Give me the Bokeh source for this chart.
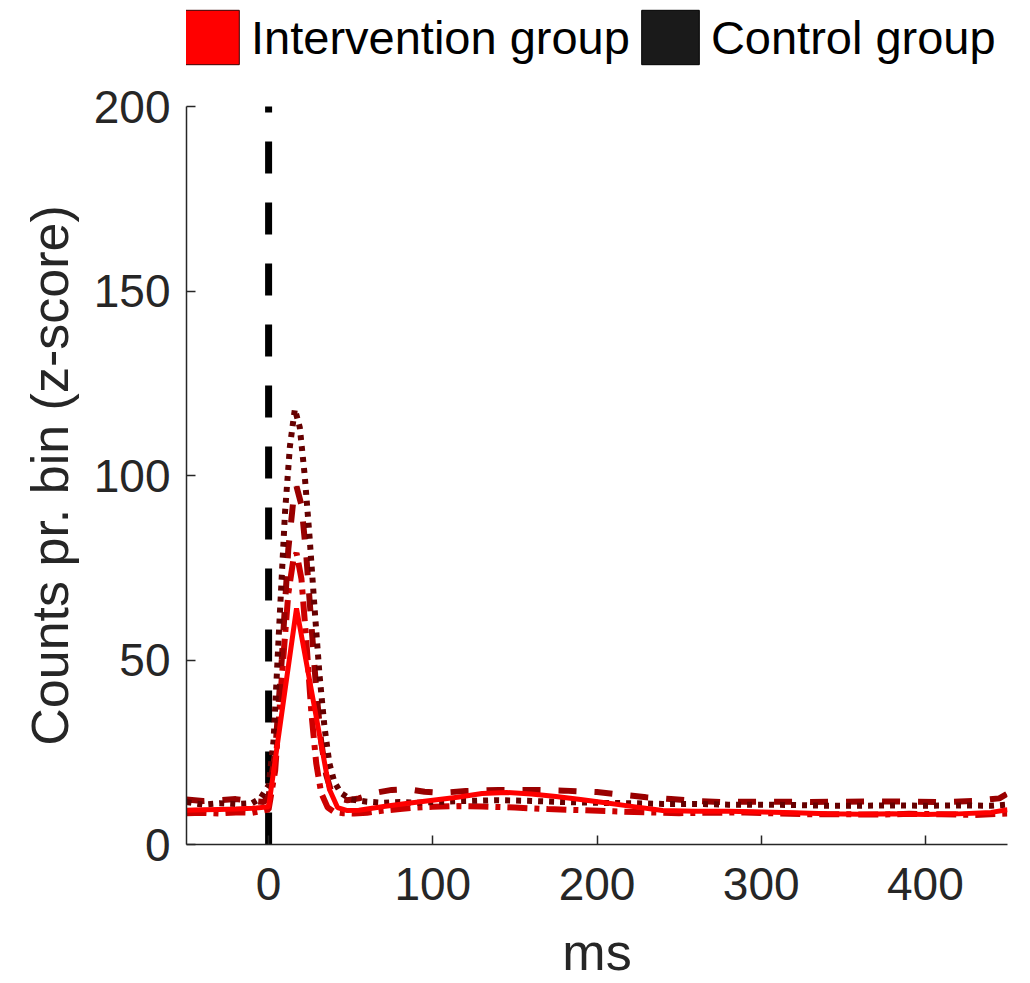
from bokeh.plotting import figure
from bokeh.layouts import column
from bokeh.models import Range1d, ColumnDataSource, Legend, LegendItem, FixedTicker
from bokeh.embed import file_html
from bokeh.resources import INLINE

# Peri-stimulus spike counts (z-scored) per bin, time in ms
t_solid = [-50, -40, -30, -20, -10, 0, 17, 37, 42, 48, 55, 70, 85, 100, 115, 130, 145,
           160, 175, 190, 205, 220, 240, 260, 280, 300, 320, 340, 360, 380, 400, 420, 440, 450]
v_solid = [9.3, 9.4, 9.5, 9.6, 9.8, 10.2, 64, 15, 10, 9.2, 9.3, 10.3, 11.2, 12.0, 12.8, 13.8, 14.1,
           13.7, 13.0, 12.2, 11.3, 10.4, 9.2, 9.0, 9.0, 8.8, 8.6, 8.3, 8.2, 8.3, 8.1, 8.3, 8.7, 9.4]

t_dot = [-50, -40, -30, -20, -10, -5, 0, 3, 6, 10, 13, 16, 19, 22, 25, 28, 31, 34, 37, 40, 44,
         50, 60, 70, 80, 90, 100, 120, 140, 160, 180, 200, 220, 240, 260, 280, 300, 320, 340,
         360, 380, 400, 420, 440, 450]
v_dot = [11.5, 10.8, 11.2, 11.0, 11.2, 12.5, 16, 28, 55, 90, 108, 118, 113, 100, 83, 64, 46, 32, 22, 17, 14,
         12.2, 11.6, 11.3, 11.5, 11.3, 11.5, 11.8, 12.0, 11.8, 11.5, 11.3, 11.2, 11.0, 11.0, 10.8, 10.8, 10.7, 10.5,
         10.5, 10.6, 10.5, 10.6, 10.5, 10.8]

t_dash = [-50, -40, -30, -20, -10, -3, 0, 4, 8, 12, 15, 17, 20, 23, 26, 29, 32, 35, 38, 42, 48,
          55, 65, 75, 85, 95, 105, 120, 140, 160, 180, 200, 215, 230, 245, 260, 275, 290, 310,
          330, 350, 370, 390, 410, 430, 445, 450]
v_dash = [12.2, 11.8, 12.0, 12.3, 11.8, 11.5, 13, 25, 50, 80, 93, 97, 92, 78, 60, 42, 28, 19, 14.5, 12.5, 12.0,
          12.5, 14.0, 14.8, 15.0, 14.3, 14.0, 14.5, 14.8, 14.8, 14.6, 14.2, 13.5, 12.8, 12.3, 11.8, 11.5, 11.6, 11.6,
          11.5, 11.6, 11.7, 11.6, 11.5, 11.8, 12.5, 13.8]

t_dd = [-50, -40, -30, -20, -10, 0, 4, 8, 12, 15, 17, 20, 23, 26, 29, 32, 36, 40, 45, 52,
        60, 70, 80, 90, 100, 115, 130, 150, 170, 190, 210, 230, 250, 270, 290, 310, 330, 350,
        370, 390, 410, 430, 450]
v_dd = [8.5, 8.6, 8.4, 8.7, 8.6, 9.5, 20, 45, 68, 77, 79, 72, 55, 36, 22, 14, 10, 8.8, 8.5, 8.4,
        8.6, 9.2, 9.6, 10.0, 10.2, 10.4, 10.3, 10.0, 9.6, 9.3, 9.0, 8.7, 8.5, 8.6, 8.7, 8.4, 8.2, 8.2,
        8.1, 8.3, 8.2, 8.0, 8.4]

# stimulus onset marker
onset_t = [0, 0]
onset_v = [0, 210]

x_ticks = [0, 100, 200, 300, 400]
y_ticks = [0, 50, 100, 150, 200]

group_labels = ["Intervention group", "Control group"]
group_fill = ["#ff0000", "#1a1a1a"]
group_edge = ["#3a0000", "#000000"]

FONT = "Liberation Sans"
TXT = "#262626"
LEGEND_H = 82

# --- legend strip on top ---
lg = figure(width=1030, height=LEGEND_H, x_range=Range1d(0, 1), y_range=Range1d(0, 1),
            output_backend="svg", toolbar_location=None, min_border=0,
            x_axis_type=None, y_axis_type=None)
lg.outline_line_color = None
lg.grid.visible = False

# swatch renderers: one row with no position, so only the legend shows them
swatch = ColumnDataSource(data=dict(x=[float("nan")], y=[float("nan")]))
items = []
for lab, fc, ec in zip(group_labels, group_fill, group_edge):
    r = lg.rect(x="x", y="y", width=1, height=1, source=swatch,
                fill_color=fc, line_color=ec, line_width=1)
    items.append(LegendItem(label=lab, renderers=[r]))

legend = Legend(items=items, orientation="horizontal", location=(-12, 11),
                glyph_width=72, glyph_height=68, label_height=54,
                label_text_font=FONT, label_text_font_size="47px", label_text_color="black",
                label_standoff=5, spacing=4, padding=0, margin=0,
                border_line_color=None, background_fill_alpha=0)
lg.add_layout(legend)

# --- main plot ---
p = figure(width=1030, height=983 - LEGEND_H, x_range=Range1d(-50, 450), y_range=Range1d(0, 200),
           output_backend="svg", toolbar_location=None,
           min_border_left=186, min_border_right=23, min_border_top=106 - LEGEND_H,
           min_border_bottom=138)
p.outline_line_color = None
p.grid.visible = False

p.line(onset_t, onset_v, line_color="black", line_width=7, line_dash="32 29")

p.line(t_dd, v_dd, line_color="#cc0000", line_width=6, line_dash="20 7 5 7")
p.line(t_dash, v_dash, line_color="#990000", line_width=6, line_dash="18 18")
p.line(t_dot, v_dot, line_color="#660000", line_width=6, line_dash="5 6")
p.line(t_solid, v_solid, line_color="#ff0000", line_width=5)

for ax, ticks, label in ((p.xaxis, x_ticks, "ms"), (p.yaxis, y_ticks, "Counts pr. bin (z-score)")):
    ax.ticker = FixedTicker(ticks=ticks)
    ax.axis_label = label
    ax.axis_label_text_font = FONT
    ax.axis_label_text_font_size = "52px"
    ax.axis_label_text_font_style = "normal"
    ax.axis_label_text_color = TXT
    ax.major_label_text_font = FONT
    ax.major_label_text_font_size = "46px"
    ax.major_label_text_color = TXT
    ax.axis_line_color = TXT
    ax.axis_line_width = 1.5
    ax.major_tick_line_color = TXT
    ax.major_tick_line_width = 1.5
    ax.major_tick_in = 9
    ax.major_tick_out = 0
    ax.minor_tick_line_color = None

p.yaxis.major_label_standoff = 16
p.yaxis.axis_label_standoff = 12
p.xaxis.major_label_standoff = 23
p.xaxis.axis_label_standoff = 20

open("out.html", "w").write(file_html(column(lg, p, spacing=0), INLINE))
